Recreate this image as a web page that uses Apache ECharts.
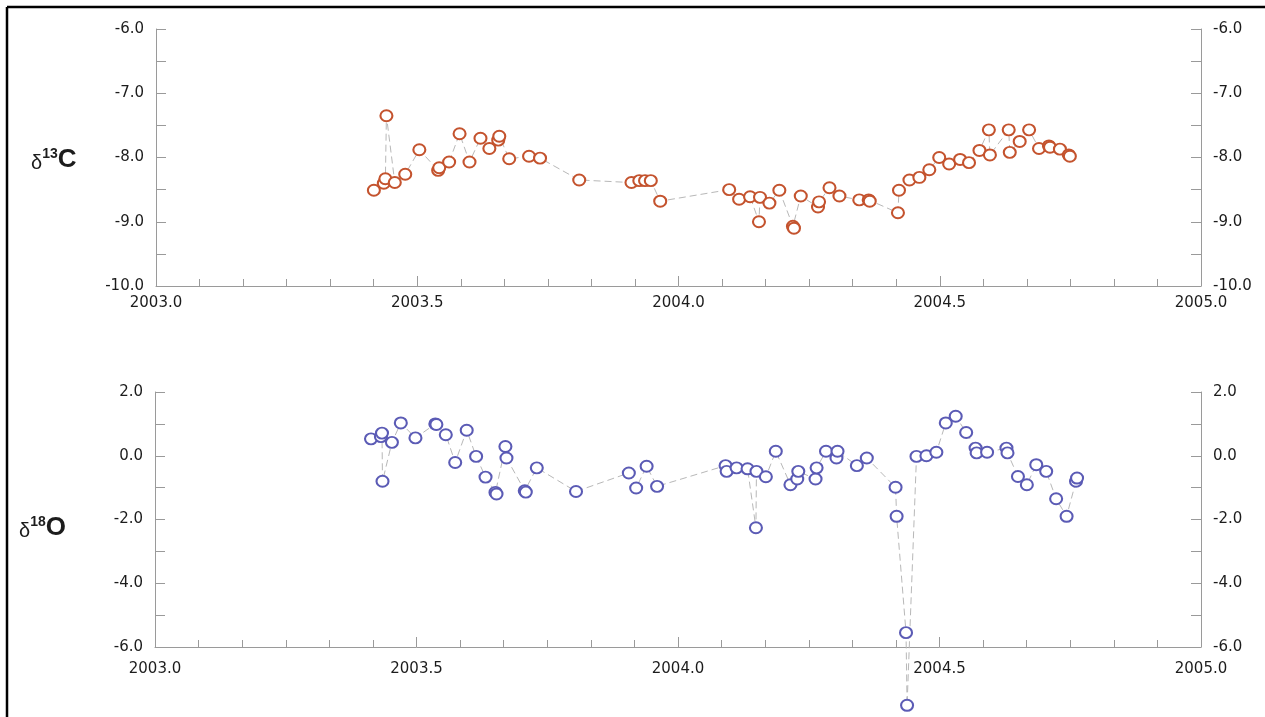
<!DOCTYPE html>
<html>
<head>
<meta charset="utf-8">
<title>δ13C and δ18O time series</title>
<script src="https://cdn.jsdelivr.net/npm/echarts@6/dist/echarts.min.js"></script>
<style>
  html, body { margin: 0; padding: 0; background: #fff; }
  #chart { width: 1265px; height: 717px; }
</style>
</head>
<body>
<div id="chart"></div>
<script>
// Carbon isotope record (decimal year, permil)
const c13Years = [
  2003.417, 2003.436, 2003.439, 2003.441, 2003.457, 2003.477, 2003.504, 2003.540,
  2003.542, 2003.561, 2003.581, 2003.600, 2003.621, 2003.638, 2003.655, 2003.657,
  2003.676, 2003.714, 2003.735, 2003.810, 2003.910, 2003.925, 2003.936, 2003.947,
  2003.965, 2004.097, 2004.116, 2004.137, 2004.154, 2004.156, 2004.174, 2004.193,
  2004.219, 2004.221, 2004.234, 2004.267, 2004.269, 2004.289, 2004.308, 2004.346,
  2004.364, 2004.366, 2004.420, 2004.422, 2004.442, 2004.461, 2004.480, 2004.499,
  2004.518, 2004.539, 2004.556, 2004.576, 2004.594, 2004.596, 2004.632, 2004.634,
  2004.653, 2004.671, 2004.690, 2004.709, 2004.711, 2004.730, 2004.747, 2004.749
];
const c13Values = [
  -8.51, -8.40, -8.33, -7.35, -8.39, -8.26, -7.88, -8.20,
  -8.16, -8.07, -7.63, -8.07, -7.70, -7.86, -7.73, -7.67,
  -8.02, -7.98, -8.01, -8.35, -8.39, -8.36, -8.36, -8.36,
  -8.68, -8.50, -8.65, -8.61, -9.00, -8.62, -8.71, -8.51,
  -9.07, -9.10, -8.60, -8.77, -8.69, -8.47, -8.60, -8.66,
  -8.66, -8.68, -8.86, -8.51, -8.35, -8.31, -8.19, -8.00,
  -8.10, -8.03, -8.08, -7.89, -7.57, -7.96, -7.57, -7.92,
  -7.75, -7.57, -7.86, -7.82, -7.84, -7.87, -7.96, -7.98
];

// Oxygen isotope record (decimal year, permil)
const o18Years = [
  2003.413, 2003.432, 2003.434, 2003.435, 2003.453, 2003.470, 2003.498, 2003.536,
  2003.538, 2003.556, 2003.574, 2003.596, 2003.614, 2003.632, 2003.651, 2003.653,
  2003.670, 2003.672, 2003.707, 2003.709, 2003.730, 2003.805, 2003.906, 2003.920,
  2003.940, 2003.960, 2004.091, 2004.093, 2004.112, 2004.133, 2004.149, 2004.150,
  2004.168, 2004.187, 2004.215, 2004.228, 2004.230, 2004.263, 2004.265, 2004.283,
  2004.303, 2004.305, 2004.342, 2004.361, 2004.416, 2004.418, 2004.436, 2004.438,
  2004.456, 2004.475, 2004.494, 2004.512, 2004.531, 2004.551, 2004.569, 2004.571,
  2004.591, 2004.628, 2004.630, 2004.650, 2004.667, 2004.685, 2004.704, 2004.723,
  2004.743, 2004.761, 2004.763
];
const o18Values = [
  0.53, 0.60, 0.71, -0.80, 0.42, 1.03, 0.56, 1.00,
  0.98, 0.66, -0.21, 0.80, -0.02, -0.67, -1.15, -1.20,
  0.29, -0.07, -1.10, -1.14, -0.38, -1.12, -0.54, -1.01,
  -0.33, -0.96, -0.31, -0.49, -0.38, -0.41, -2.26, -0.49,
  -0.66, 0.14, -0.91, -0.73, -0.49, -0.73, -0.38, 0.14,
  -0.07, 0.14, -0.31, -0.07, -0.99, -1.90, -5.55, -7.83,
  -0.02, 0.00, 0.11, 1.03, 1.24, 0.73, 0.24, 0.09,
  0.11, 0.24, 0.09, -0.65, -0.91, -0.28, -0.49, -1.35,
  -1.90, -0.80, -0.70
];

// Axis ranges
const yearRange = [2003.0, 2005.0];
const c13Range = [-10.0, -6.0];
const o18Range = [-6.0, 2.0];

const AXIS_GREY = '#9a9a9a';
const TEXT = '#1c1c1c';
const FONT = 'DejaVu Sans, Liberation Sans, sans-serif';
const TITLE_FONT = 'Liberation Sans, Arial, sans-serif';

function zip(xs, ys) { return xs.map((x, i) => [x, ys[i]]); }

function xAxisFor(gridIndex, labelMargin) {
  return {
    type: 'value', gridIndex,
    min: yearRange[0], max: yearRange[1], interval: 0.5,
    axisLine: { show: true, onZero: false, lineStyle: { color: AXIS_GREY, width: 1 } },
    axisTick: { show: true, inside: true, length: 10, lineStyle: { color: AXIS_GREY } },
    minorTick: { show: true, splitNumber: 6, length: 7, lineStyle: { color: AXIS_GREY } },
    splitLine: { show: false },
    axisLabel: { margin: labelMargin, color: TEXT, fontSize: 15, fontFamily: FONT,
                 formatter: v => v.toFixed(1) }
  };
}

function yAxisFor(gridIndex, range, interval, side) {
  return {
    type: 'value', gridIndex, position: side,
    min: range[0], max: range[1], interval,
    axisLine: { show: true, onZero: false, lineStyle: { color: AXIS_GREY, width: 1 } },
    axisTick: { show: true, inside: true, length: 10, lineStyle: { color: AXIS_GREY } },
    minorTick: { show: true, splitNumber: 2, length: 10, lineStyle: { color: AXIS_GREY } },
    splitLine: { show: false },
    axisLabel: { margin: 12, color: TEXT, fontSize: 15, fontFamily: FONT,
                 formatter: v => v.toFixed(1) }
  };
}

function seriesFor(name, xIdx, yIdx, data, color) {
  return {
    name, type: 'line', xAxisIndex: xIdx, yAxisIndex: yIdx,
    data, clip: false,
    symbol: 'emptyCircle', symbolSize: [12, 11],
    itemStyle: { color, borderColor: color, borderWidth: 1.6 },
    lineStyle: { color: '#b8b8b8', width: 1, type: [7, 4] },
    emphasis: { disabled: true },
    z: 3
  };
}

const titleRich = {
  d: { fontSize: 20, fontFamily: TITLE_FONT, fill: TEXT, verticalAlign: 'bottom' },
  s: { fontSize: 14, fontWeight: 'bold', fontFamily: TITLE_FONT, fill: TEXT, verticalAlign: 'top' },
  b: { fontSize: 26, fontWeight: 'bold', fontFamily: TITLE_FONT, fill: TEXT, verticalAlign: 'bottom' }
};

const chart = echarts.init(document.getElementById('chart'), null, { renderer: 'canvas' });

chart.setOption({
  animation: false,
  backgroundColor: '#ffffff',
  grid: [
    { left: 156, right: 64, top: 29, height: 257, outerBoundsMode: 'none', containLabel: false },
    { left: 155, right: 64, top: 392, height: 255, outerBoundsMode: 'none', containLabel: false }
  ],
  xAxis: [xAxisFor(0, 10), xAxisFor(1, 15)],
  yAxis: [
    yAxisFor(0, c13Range, 1, 'left'),
    yAxisFor(0, c13Range, 1, 'right'),
    yAxisFor(1, o18Range, 2, 'left'),
    yAxisFor(1, o18Range, 2, 'right')
  ],
  series: [
    seriesFor('δ13C', 0, 0, zip(c13Years, c13Values), '#c4532e'),
    seriesFor('δ18O', 1, 2, zip(o18Years, o18Values), '#5b5bb5')
  ],
  graphic: [
    // frame edges
    { type: 'line', shape: { x1: 7, y1: 7, x2: 1265, y2: 7 },
      style: { stroke: '#000', lineWidth: 2.5 } },
    { type: 'line', shape: { x1: 7, y1: 7, x2: 7, y2: 717 },
      style: { stroke: '#000', lineWidth: 2.5 } },
    // axis titles
    { type: 'text', left: 31, top: 147,
      style: { text: '{d|δ}{s|13}{b|C}', rich: titleRich } },
    { type: 'text', left: 19, top: 515,
      style: { text: '{d|δ}{s|18}{b|O}', rich: titleRich } }
  ]
});
</script>
</body>
</html>
